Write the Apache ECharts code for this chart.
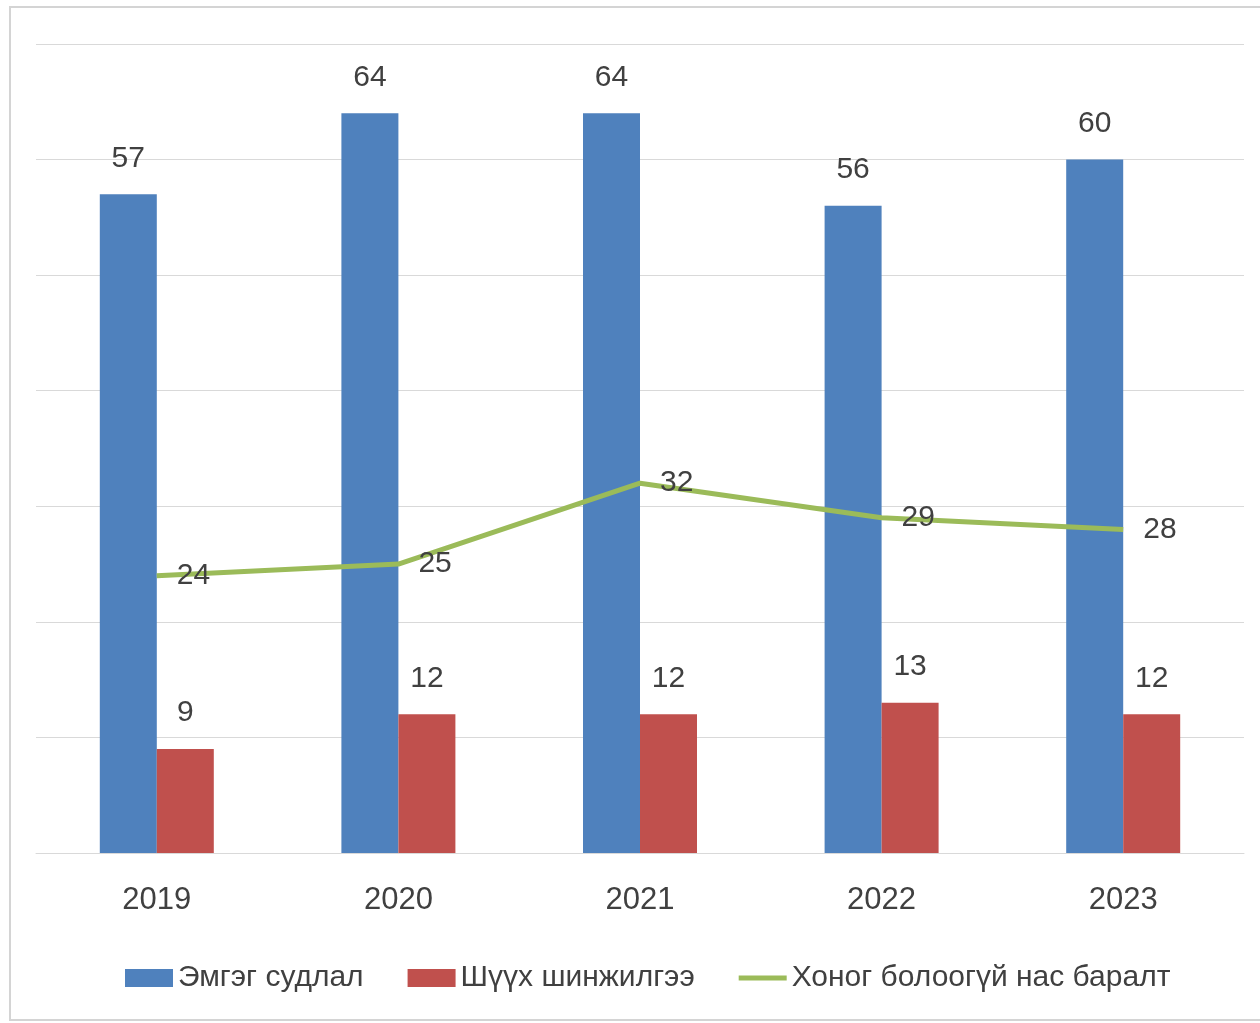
<!DOCTYPE html>
<html>
<head>
<meta charset="utf-8">
<script src="https://cdn.jsdelivr.net/npm/echarts@6/dist/echarts.min.js"></script>
<style>
html,body{margin:0;padding:0;background:#fff;}
#c{width:1260px;height:1023px;}
</style>
</head>
<body>
<div id="c"></div>
<script>
const categories = ['2019', '2020', '2021', '2022', '2023'];
const pathology = [57, 64, 64, 56, 60];
const forensic = [9, 12, 12, 13, 12];
const neonatal = [24, 25, 32, 29, 28];
const seriesNames = ['Эмгэг судлал', 'Шүүх шинжилгээ', 'Хоног болоогүй нас баралт'];

const FONT = "'Liberation Sans Narrow', 'Arial Narrow', 'Liberation Sans', Arial, sans-serif";
const TXT = '#404040';

const chart = echarts.init(document.getElementById('c'));
chart.setOption({
  animation: false,
  backgroundColor: '#fff',
  graphic: [{
    type: 'rect', shape: {x: 10, y: 7, width: 1300, height: 1013},
    style: {fill: 'none', stroke: '#d4d4d4', lineWidth: 2}, silent: true, z: -1
  }],
  grid: {left: 36, right: 16, top: 44, bottom: 170},
  legend: {
    top: 958, left: 120,
    itemGap: 44, itemWidth: 48, itemHeight: 18,
    symbolKeepAspect: true,
    textStyle: {fontFamily: FONT, fontSize: 30, color: TXT},
    data: [
      {name: seriesNames[0], icon: 'rect'},
      {name: seriesNames[1], icon: 'rect'},
      {name: seriesNames[2], icon: 'path://M0,0h48v5h-48z'}
    ]
  },
  xAxis: {
    type: 'category', data: categories,
    axisLine: {show: true, lineStyle: {color: '#d9d9d9', width: 1}},
    axisTick: {show: false},
    axisLabel: {fontFamily: FONT, fontSize: 31, color: TXT, margin: 32}
  },
  yAxis: {
    type: 'value', min: 0, max: 70, interval: 10,
    axisLabel: {show: false}, axisLine: {show: false}, axisTick: {show: false},
    splitLine: {lineStyle: {color: '#d9d9d9', width: 1}}
  },
  series: [
    {
      name: seriesNames[0], type: 'bar', data: pathology,
      barWidth: 57, barGap: '0%',
      itemStyle: {color: '#4F81BD'},
      label: {show: true, position: 'top', distance: 21, fontFamily: FONT, fontSize: 30, color: TXT}
    },
    {
      name: seriesNames[1], type: 'bar', data: forensic,
      barWidth: 57, barGap: '0%',
      itemStyle: {color: '#C0504D'},
      label: {show: true, position: 'top', distance: 21, fontFamily: FONT, fontSize: 30, color: TXT}
    },
    {
      name: seriesNames[2], type: 'line', data: neonatal,
      symbol: 'circle', symbolSize: 0, showSymbol: true,
      lineStyle: {color: '#9BBB59', width: 5},
      itemStyle: {color: '#9BBB59'},
      label: {show: true, position: 'right', distance: 20, fontFamily: FONT, fontSize: 30, color: TXT}
    }
  ]
});
</script>
</body>
</html>
